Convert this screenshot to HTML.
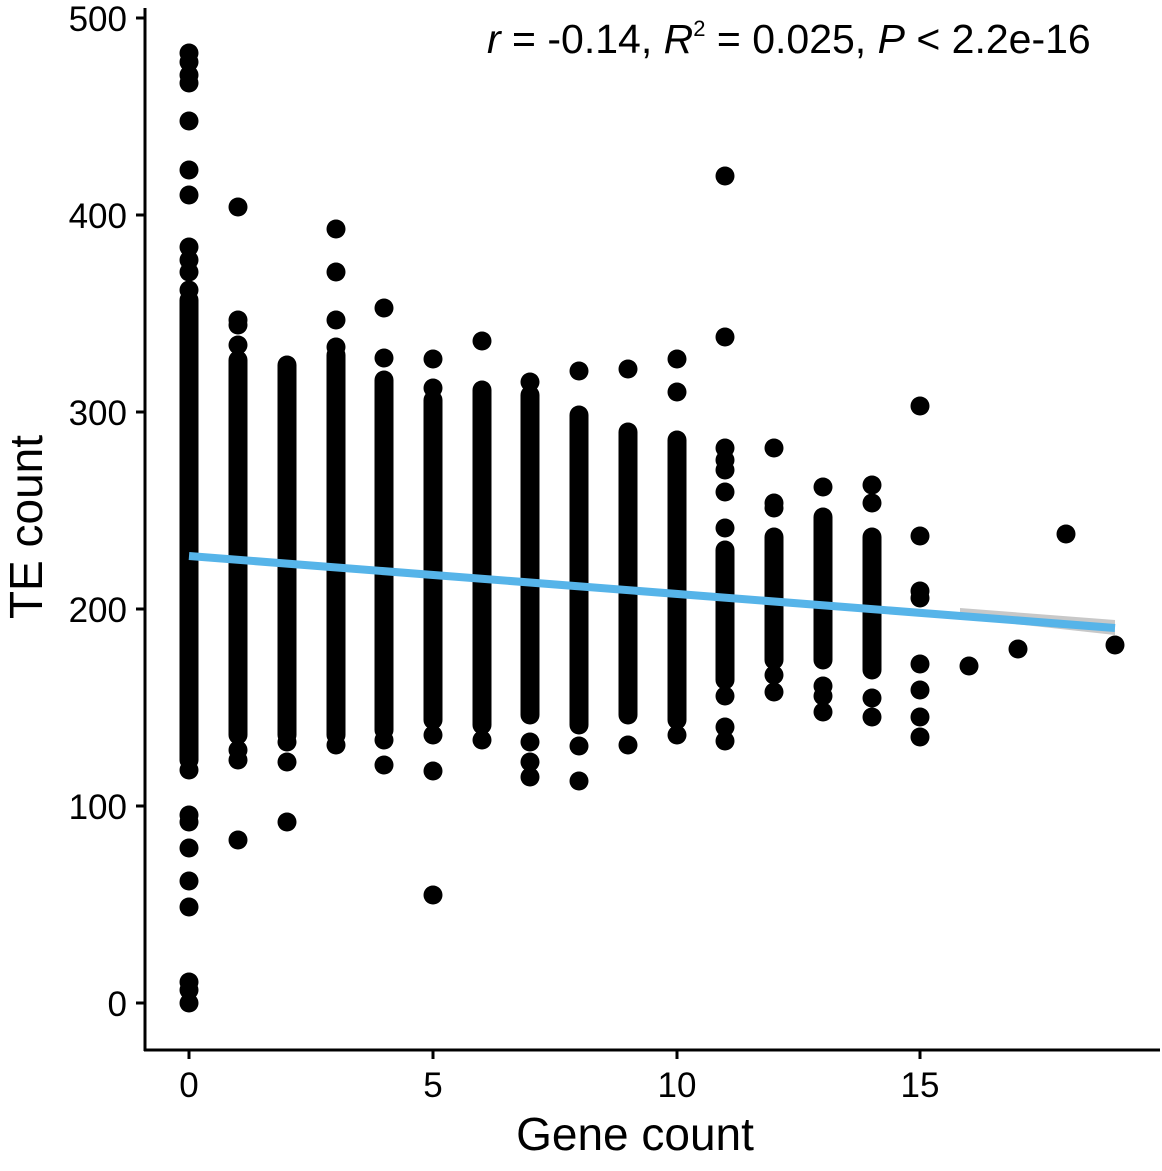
<!DOCTYPE html>
<html><head><meta charset="utf-8"><style>html,body{margin:0;padding:0;background:#fff}</style></head>
<body>
<svg width="1162" height="1166" viewBox="0 0 1162 1166" xmlns="http://www.w3.org/2000/svg" font-family="Liberation Sans, Arial, sans-serif">
<rect width="1162" height="1166" fill="#fff"/>
<g stroke="#000" stroke-width="19" stroke-linecap="round">
<line x1="189" y1="300" x2="189" y2="760"/>
<line x1="238" y1="360" x2="238" y2="735"/>
<line x1="287" y1="365" x2="287" y2="735"/>
<line x1="336" y1="355" x2="336" y2="735"/>
<line x1="384" y1="380" x2="384" y2="730"/>
<line x1="433" y1="400" x2="433" y2="720"/>
<line x1="482" y1="390" x2="482" y2="725"/>
<line x1="530" y1="395" x2="530" y2="715"/>
<line x1="579" y1="415" x2="579" y2="725"/>
<line x1="628" y1="432" x2="628" y2="715"/>
<line x1="677" y1="440" x2="677" y2="720"/>
<line x1="725" y1="550" x2="725" y2="680"/>
<line x1="774" y1="537" x2="774" y2="660"/>
<line x1="823" y1="517" x2="823" y2="660"/>
<line x1="872" y1="537" x2="872" y2="670"/>
</g>
<g fill="#000">
<circle cx="189" cy="53" r="9.5"/><circle cx="189" cy="62" r="9.5"/><circle cx="189" cy="75" r="9.5"/><circle cx="189" cy="83" r="9.5"/><circle cx="189" cy="121" r="9.5"/><circle cx="189" cy="170" r="9.5"/><circle cx="189" cy="195" r="9.5"/><circle cx="189" cy="247" r="9.5"/><circle cx="189" cy="260" r="9.5"/><circle cx="189" cy="272" r="9.5"/><circle cx="189" cy="290" r="9.5"/><circle cx="189" cy="770" r="9.5"/><circle cx="189" cy="815" r="9.5"/><circle cx="189" cy="822" r="9.5"/><circle cx="189" cy="848" r="9.5"/><circle cx="189" cy="881" r="9.5"/><circle cx="189" cy="907" r="9.5"/><circle cx="189" cy="982" r="9.5"/><circle cx="189" cy="990" r="9.5"/><circle cx="189" cy="1003" r="9.5"/>
<circle cx="238" cy="207" r="9.5"/><circle cx="238" cy="320" r="9.5"/><circle cx="238" cy="325" r="9.5"/><circle cx="238" cy="345" r="9.5"/><circle cx="238" cy="750" r="9.5"/><circle cx="238" cy="760" r="9.5"/><circle cx="238" cy="840" r="9.5"/>
<circle cx="287" cy="742" r="9.5"/><circle cx="287" cy="762" r="9.5"/><circle cx="287" cy="822" r="9.5"/>
<circle cx="336" cy="229" r="9.5"/><circle cx="336" cy="272" r="9.5"/><circle cx="336" cy="320" r="9.5"/><circle cx="336" cy="347" r="9.5"/><circle cx="336" cy="745" r="9.5"/>
<circle cx="384" cy="308" r="9.5"/><circle cx="384" cy="358" r="9.5"/><circle cx="384" cy="740" r="9.5"/><circle cx="384" cy="765" r="9.5"/>
<circle cx="433" cy="359" r="9.5"/><circle cx="433" cy="388" r="9.5"/><circle cx="433" cy="735" r="9.5"/><circle cx="433" cy="771" r="9.5"/><circle cx="433" cy="895" r="9.5"/>
<circle cx="482" cy="341" r="9.5"/><circle cx="482" cy="740" r="9.5"/>
<circle cx="530" cy="382" r="9.5"/><circle cx="530" cy="742" r="9.5"/><circle cx="530" cy="762" r="9.5"/><circle cx="530" cy="777" r="9.5"/>
<circle cx="579" cy="371" r="9.5"/><circle cx="579" cy="746" r="9.5"/><circle cx="579" cy="781" r="9.5"/>
<circle cx="628" cy="369" r="9.5"/><circle cx="628" cy="745" r="9.5"/>
<circle cx="677" cy="359" r="9.5"/><circle cx="677" cy="392" r="9.5"/><circle cx="677" cy="735" r="9.5"/>
<circle cx="725" cy="176" r="9.5"/><circle cx="725" cy="337" r="9.5"/><circle cx="725" cy="448" r="9.5"/><circle cx="725" cy="460" r="9.5"/><circle cx="725" cy="470" r="9.5"/><circle cx="725" cy="492" r="9.5"/><circle cx="725" cy="528" r="9.5"/><circle cx="725" cy="696" r="9.5"/><circle cx="725" cy="727" r="9.5"/><circle cx="725" cy="741" r="9.5"/>
<circle cx="774" cy="448" r="9.5"/><circle cx="774" cy="503" r="9.5"/><circle cx="774" cy="508" r="9.5"/><circle cx="774" cy="675" r="9.5"/><circle cx="774" cy="692" r="9.5"/>
<circle cx="823" cy="487" r="9.5"/><circle cx="823" cy="686" r="9.5"/><circle cx="823" cy="696" r="9.5"/><circle cx="823" cy="712" r="9.5"/>
<circle cx="872" cy="485" r="9.5"/><circle cx="872" cy="503" r="9.5"/><circle cx="872" cy="698" r="9.5"/><circle cx="872" cy="717" r="9.5"/>
<circle cx="920" cy="406" r="9.5"/><circle cx="920" cy="536" r="9.5"/><circle cx="920" cy="591" r="9.5"/><circle cx="920" cy="598" r="9.5"/><circle cx="920" cy="664" r="9.5"/><circle cx="920" cy="690" r="9.5"/><circle cx="920" cy="717" r="9.5"/><circle cx="920" cy="737" r="9.5"/>
<circle cx="969" cy="666" r="9.5"/><circle cx="1018" cy="649" r="9.5"/><circle cx="1066" cy="534" r="9.5"/><circle cx="1115" cy="645" r="9.5"/>
</g>
<polygon points="960,608 1115,620 1115,635 960,618" fill="#c8c8c8"/>
<line x1="189" y1="556" x2="1115" y2="628" stroke="#56B4E9" stroke-width="8"/>
<g stroke="#000" stroke-width="3">
<line x1="145" y1="8" x2="145" y2="1051"/>
<line x1="144" y1="1050" x2="1160" y2="1050"/>
<line x1="136" y1="1003" x2="145" y2="1003"/><line x1="136" y1="806" x2="145" y2="806"/><line x1="136" y1="609" x2="145" y2="609"/><line x1="136" y1="412" x2="145" y2="412"/><line x1="136" y1="215" x2="145" y2="215"/><line x1="136" y1="18" x2="145" y2="18"/>
<line x1="189" y1="1050" x2="189" y2="1059"/><line x1="433" y1="1050" x2="433" y2="1059"/><line x1="677" y1="1050" x2="677" y2="1059"/><line x1="920" y1="1050" x2="920" y2="1059"/>
</g>
<g font-size="35" fill="#000" text-anchor="end">
<text x="127" y="1016">0</text><text x="127" y="819">100</text><text x="127" y="622">200</text><text x="127" y="425">300</text><text x="127" y="228">400</text><text x="127" y="31">500</text>
</g>
<g font-size="35" fill="#000" text-anchor="middle">
<text x="189" y="1097">0</text><text x="433" y="1097">5</text><text x="677" y="1097">10</text><text x="920" y="1097">15</text>
</g>
<text x="635" y="1150" font-size="46" text-anchor="middle">Gene count</text>
<text transform="translate(42,527) rotate(-90)" font-size="46" text-anchor="middle">TE count</text>
<text x="487" y="53" font-size="41"><tspan font-style="italic">r</tspan> = -0.14, <tspan font-style="italic">R</tspan><tspan font-size="22" dy="-17">2</tspan><tspan dy="17"> = 0.025, </tspan><tspan font-style="italic">P</tspan> &lt; 2.2e-16</text>
</svg>
</body></html>
